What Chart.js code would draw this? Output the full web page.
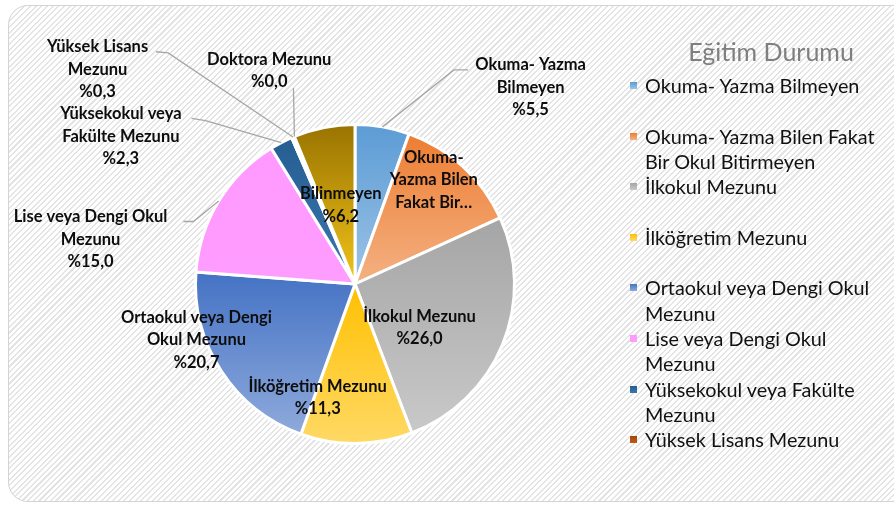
<!DOCTYPE html>
<html>
<head>
<meta charset="utf-8">
<script src="https://cdn.jsdelivr.net/npm/chart.js@4"></script>
<style>
  html, body { margin: 0; padding: 0; background: #fff; }
  #wrap { position: relative; width: 894px; height: 509px; overflow: hidden; font-family: Lato, "Open Sans", sans-serif; }
  #frame {
    position: absolute; left: 8px; top: 5px; width: 910px; height: 497px;
    border: 1px solid #d4d4d4; border-radius: 20px; box-sizing: border-box;
    background: repeating-linear-gradient(135deg, #ffffff 0px, #ffffff 2.5px, #e4e4e4 2.5px, #e4e4e4 4px);
  }
  #chart { position: absolute; left: 0; top: 0; }
  #legendTitle { position: absolute; left: 671px; top: 36px; width: 200px; text-align: center; font-size: 25px; color: #7f7f7f; }
  #legend { position: absolute; left: 626px; top: 73px; }
  .item { position: relative; height: 50.6px; padding-left: 19px; font-size: 19.8px; line-height: 25.3px; color: #111; white-space: nowrap; }
  .sw { position: absolute; left: 4px; top: 9px; width: 7px; height: 7px; }
</style>
</head>
<body>
<div id="wrap">
  <div id="frame"></div>
  <canvas id="chart" width="894" height="509"></canvas>
  <div id="legendTitle">Eğitim Durumu</div>
  <div id="legend"></div>
</div>
<script>
var categories = [
  "Okuma- Yazma Bilmeyen",
  "Okuma- Yazma Bilen Fakat Bir Okul Bitirmeyen",
  "İlkokul Mezunu",
  "İlköğretim Mezunu",
  "Ortaokul veya Dengi Okul Mezunu",
  "Lise veya Dengi Okul Mezunu",
  "Yüksekokul veya Fakülte Mezunu",
  "Yüksek Lisans Mezunu",
  "Doktora Mezunu",
  "Bilinmeyen"
];
var values = [5.5, 12.7, 26.0, 11.3, 20.7, 15.0, 2.3, 0.3, 0.0, 6.2];

// wrapped text of the data labels (percent is appended unless truncated)
var labelLines = [
  ["Okuma- Yazma", "Bilmeyen"],
  ["Okuma-", "Yazma Bilen", "Fakat Bir…"],
  ["İlkokul Mezunu"],
  ["İlköğretim Mezunu"],
  ["Ortaokul veya Dengi", "Okul Mezunu"],
  ["Lise veya Dengi Okul", "Mezunu"],
  ["Yüksekokul veya", "Fakülte Mezunu"],
  ["Yüksek Lisans", "Mezunu"],
  ["Doktora Mezunu"],
  ["Bilinmeyen"]
];
var truncatedLabels = [1];

// legend text as wrapped in the original (only the first 8 entries fit)
var legendLines = [
  ["Okuma- Yazma Bilmeyen"],
  ["Okuma- Yazma Bilen Fakat", "Bir Okul Bitirmeyen"],
  ["İlkokul Mezunu"],
  ["İlköğretim Mezunu"],
  ["Ortaokul veya Dengi Okul", "Mezunu"],
  ["Lise veya Dengi Okul", "Mezunu"],
  ["Yüksekokul veya Fakülte", "Mezunu"],
  ["Yüksek Lisans Mezunu"]
];

var topColors    = ["#5b9bd5", "#ed7d31", "#a5a5a5", "#ffc000", "#4472c4", "#ff99ff", "#255e91", "#9e480e", "#636363", "#997300"];
var bottomColors = ["#9dc3e6", "#f4b183", "#c9c9c9", "#ffd966", "#8faadc", "#ff9cff", "#3a76ae", "#c55a11", "#8c8c8c", "#f2c31a"];

// label anchors and leader lines, in units of the pie radius from its centre
var placement = [
  { at: [1.101, -1.234], leader: [[0.620, -1.342], [0.709, -1.342]] },
  { at: [0.494, -0.652] },
  { at: [0.405, 0.275] },
  { at: [-0.234, 0.712] },
  { at: [-0.994, 0.351] },
  { at: [-1.658, -0.278], leader: [[-1.013, -0.392], [-1.076, -0.392]] },
  { at: [-1.468, -0.924], leader: [[-0.937, -1.025], [-1.025, -1.038]] },
  { at: [-1.614, -1.345], leader: [[-1.171, -1.449], [-1.247, -1.456]] },
  { at: [-0.538, -1.339], leader: [[-0.386, -1.228]] },
  { at: [-0.089, -0.494] }
];

function pct(v) { return "%" + v.toFixed(1).replace(".", ","); }

function sliceGradient(context) {
  var chart = context.chart, area = chart.chartArea, i = context.dataIndex;
  if (!area || i === undefined) return topColors[i];
  var cx = (area.left + area.right) / 2, cy = (area.top + area.bottom) / 2;
  var r = Math.min(area.width, area.height) / 2;
  var total = values.reduce(function (a, b) { return a + b; }, 0);
  var before = 0;
  for (var k = 0; k < i; k++) before += values[k];
  var a0 = -Math.PI / 2 + before / total * 2 * Math.PI;
  var a1 = a0 + values[i] / total * 2 * Math.PI;
  var ys = [cy, cy + Math.sin(a0) * r, cy + Math.sin(a1) * r];
  [Math.PI / 2, Math.PI * 1.5, -Math.PI / 2].forEach(function (t) {
    if (t > a0 && t < a1) ys.push(cy + Math.sin(t) * r);
  });
  var y0 = Math.min.apply(null, ys), y1 = Math.max.apply(null, ys);
  if (y1 - y0 < 1) return topColors[i];
  var g = chart.ctx.createLinearGradient(0, y0, 0, y1);
  g.addColorStop(0, topColors[i]);
  g.addColorStop(1, bottomColors[i]);
  return g;
}

var sliceLabels = {
  id: "sliceLabels",
  afterDatasetsDraw: function (chart) {
    var ctx = chart.ctx;
    var meta = chart.getDatasetMeta(0);
    ctx.save();
    meta.data.forEach(function (arc, i) {
      var p = arc.getProps(["x", "y", "startAngle", "endAngle", "outerRadius"], true);
      var r = p.outerRadius, pl = placement[i];
      if (pl.leader) {
        var mid = (p.startAngle + p.endAngle) / 2;
        ctx.beginPath();
        ctx.strokeStyle = "#a6a6a6";
        ctx.lineWidth = 1.3;
        ctx.moveTo(p.x + Math.cos(mid) * r, p.y + Math.sin(mid) * r);
        pl.leader.forEach(function (pt) { ctx.lineTo(p.x + pt[0] * r, p.y + pt[1] * r); });
        ctx.stroke();
      }
      var lines = labelLines[i].slice();
      if (truncatedLabels.indexOf(i) < 0) lines.push(pct(values[i]));
      var lx = p.x + pl.at[0] * r, ly = p.y + pl.at[1] * r;
      var lh = 22.5;
      ctx.font = "bold 16.5px Lato, 'Open Sans', sans-serif";
      ctx.fillStyle = "#0d0d0d";
      ctx.textAlign = "center";
      ctx.textBaseline = "middle";
      lines.forEach(function (t, k) {
        ctx.fillText(t, lx, ly + (k - (lines.length - 1) / 2) * lh);
      });
    });
    ctx.restore();
  }
};

var chart = new Chart(document.getElementById("chart").getContext("2d"), {
  type: "pie",
  data: {
    labels: categories,
    datasets: [{
      data: values,
      backgroundColor: sliceGradient,
      borderColor: "#ffffff",
      borderWidth: 3,
      hoverOffset: 0
    }]
  },
  options: {
    responsive: false,
    animation: false,
    layout: { padding: { left: 194, right: 378, top: 123, bottom: 64 } },
    plugins: {
      legend: { display: false },
      tooltip: { enabled: false }
    }
  },
  plugins: [sliceLabels]
});

// legend built from the same arrays
var legend = document.getElementById("legend");
legendLines.forEach(function (lines, i) {
  var item = document.createElement("div");
  item.className = "item";
  var sw = document.createElement("span");
  sw.className = "sw";
  sw.style.background = "linear-gradient(" + topColors[i] + "," + bottomColors[i] + ")";
  item.appendChild(sw);
  lines.forEach(function (t, k) {
    if (k > 0) item.appendChild(document.createElement("br"));
    item.appendChild(document.createTextNode(t));
  });
  legend.appendChild(item);
});
</script>
</body>
</html>
